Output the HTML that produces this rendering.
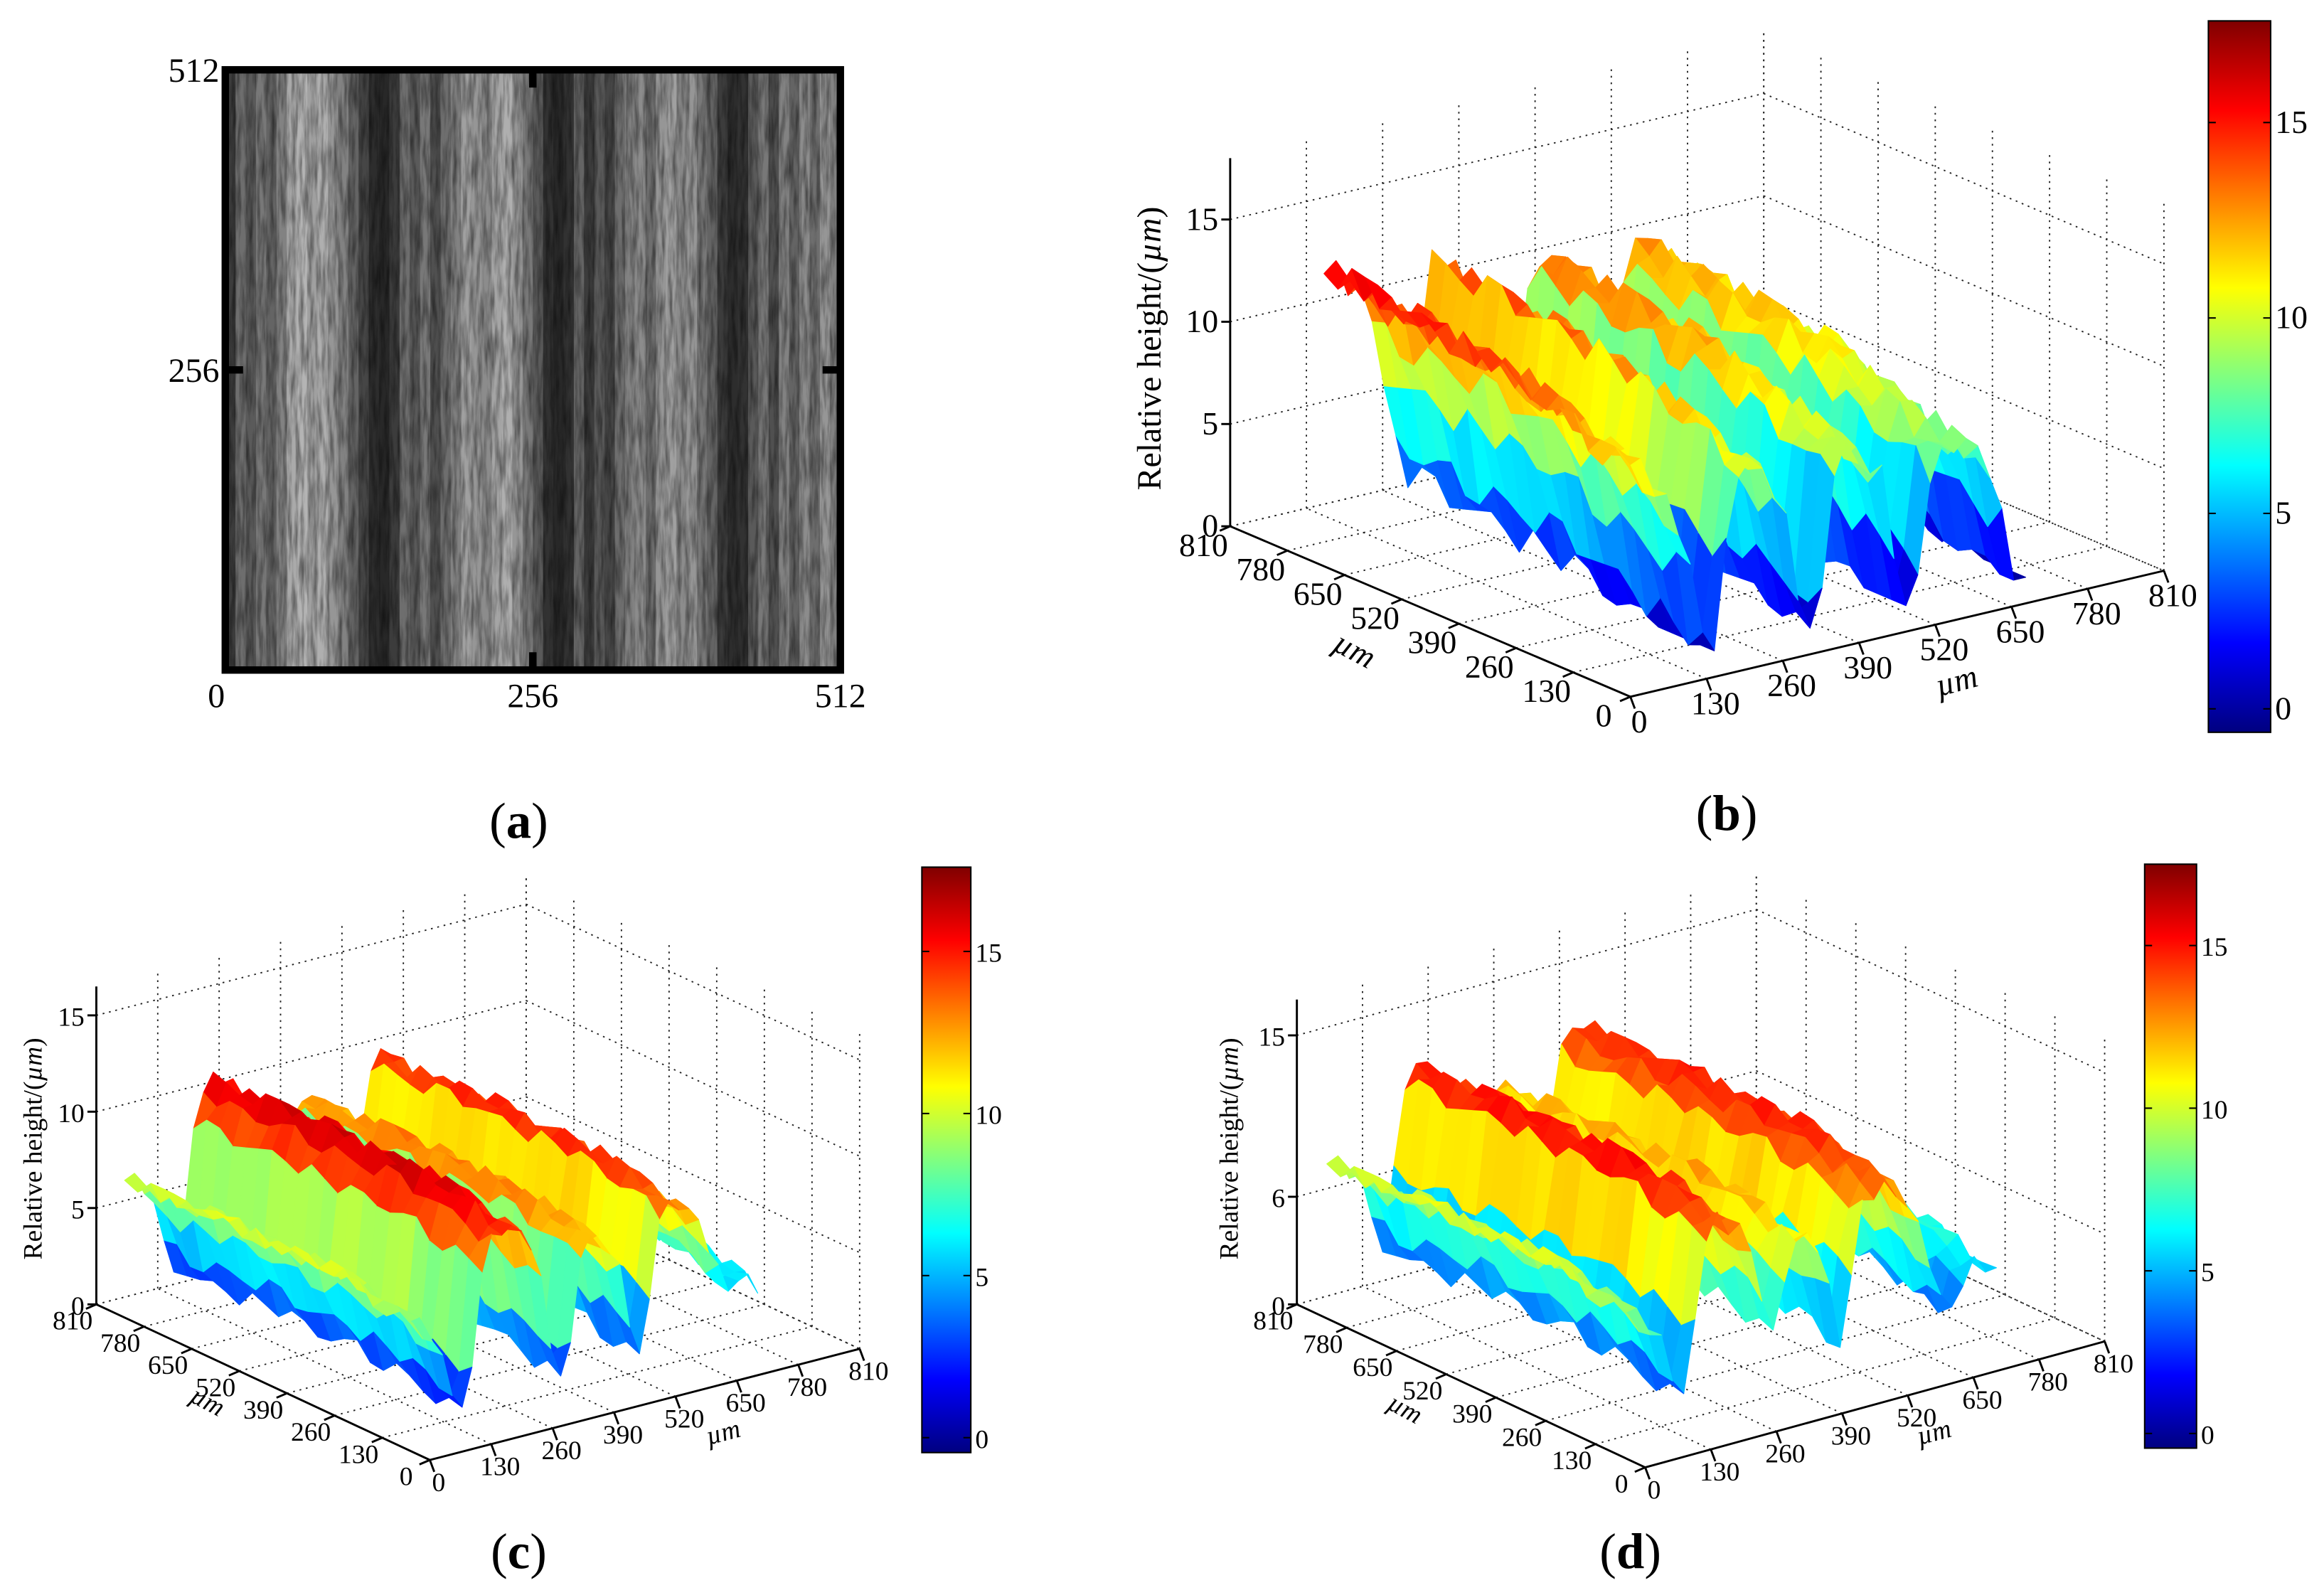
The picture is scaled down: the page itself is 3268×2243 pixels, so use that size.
<!DOCTYPE html>
<html><head><meta charset="utf-8"><style>
html,body{margin:0;padding:0;background:#fff;}
svg{display:block;font-family:"Liberation Serif",serif;}
</style></head><body>
<svg id="fig" width="3268" height="2243" viewBox="0 0 1568 1076" xmlns="http://www.w3.org/2000/svg">
<defs>
<filter id="grain" x="0" y="0" width="100%" height="100%">
<feTurbulence type="fractalNoise" baseFrequency="0.35 0.04" numOctaves="3" seed="4"/>
<feColorMatrix type="matrix" values="0 0 0 0 0  0 0 0 0 0  0 0 0 0 0  0 0 0 -1.6 1.05"/>
</filter>
</defs>
<rect x="0" y="0" width="1568" height="1076" fill="#fff"/>
<g id="pa"></g>
<g id="pb"></g>
<g id="pc"></g>
<g id="pd"></g>
<text x="350" y="565" font-size="34" text-anchor="middle">(<tspan font-weight="bold">a</tspan>)</text>
<text x="1165" y="560" font-size="34" text-anchor="middle">(<tspan font-weight="bold">b</tspan>)</text>
<text x="350" y="1058" font-size="34" text-anchor="middle">(<tspan font-weight="bold">c</tspan>)</text>
<text x="1100" y="1058" font-size="34" text-anchor="middle">(<tspan font-weight="bold">d</tspan>)</text>
</svg>
<script>
const NS="http://www.w3.org/2000/svg";
// ---- data ----
const stripeGray=[60,110,90,120,100,130,170,180,160,175,150,130,100,70,45,40,60,110,90,120,80,110,130,160,150,140,165,175,150,120,90,50,40,50,100,60,90,70,110,130,140,110,150,160,140,150,120,100,60,45,50,90,120,80,130,100,140,110,150,130];
const imgTicks=[0,256,512];
const axisTicks=[0,130,260,390,520,650,780,810];
const zTicksB=[0,5,10,15];
const zTicksC=[0,5,10,15];
const zTicksD=[0,6,15];
const cbTicks=[0,5,10,15];
const profileB=[14,13.5,13,12,10,7,3,1,8,13,12.5,12,11,9,5,2,4,11,12,11.5,11,10,6,1.5,5,10,11,11,10.5,10,9,6,2,1];
const profileC=[10,9.5,9,7,4,2,5,13,15,16,15.5,15,14,11,6,3,5,12,13,12.5,12,10,6,3,8,14,14.5,14,13,12,10,8,7,6.5,7,6];
const profileD=[10,9.5,9,8,5,3,8,14,15,14.5,14,12,9,6,10,12,12,11,8,4,9,13,14,14.5,14,13,11,8,5,4,6,7,7,6];
const yVarB=[-2.5,-2.2,-2,-1.6,-1.3,-1,-0.7,-0.4,-0.1,0.2,0.4,0.5,0.6,0.7,0.8,0.9,1,1.1,1.2,1.3,1.4,1.5,1.6];
const yVarC=[-1,-0.8,-0.5,-0.3,0,0.2,0.3,0.4,0.5,0.4,0.3,0.2,0.3,0.4,0.5,0.4,0.3,0.2,0.1,0,-0.1,0,0.1];
const yVarD=[-1,-0.8,-0.5,-0.3,0,0.2,0.3,0.4,0.5,0.4,0.3,0.2,0.3,0.4,0.5,0.4,0.3,0.2,0.1,0,-0.1,0,0.1];
const rough=[0.3,-0.8,0.9,-0.2,0.6,-1,0.1,0.8,-0.5,0.4,-0.9,0.7,-0.3,1,-0.6,0.2,-0.1,0.9,-0.7,0.5,-0.4,0.8,-0.95];

function el(tag,attrs,parent){const e=document.createElementNS(NS,tag);for(const k in attrs)e.setAttribute(k,attrs[k]);parent.appendChild(e);return e;}
function jet(t){t=Math.max(0,Math.min(1,t));
 const c=v=>Math.round(255*Math.max(0,Math.min(1,v)));
 return `rgb(${c(Math.min(4*t-1.5,-4*t+4.5))},${c(Math.min(4*t-0.5,-4*t+3.5))},${c(Math.min(4*t+0.5,-4*t+2.5))})`;}

// ---- panel a ----
(function(){
 const g=document.getElementById('pa');
 const x0=152,y0=47,w=415,h=405,sw=w/stripeGray.length;
 stripeGray.forEach((v,i)=>{
  const r=el('rect',{x:x0+i*sw,y:y0,width:sw+0.6,height:h,fill:`rgb(${v},${v},${v})`},g);
  
  
 });
 const n=el('rect',{x:x0,y:y0,width:w,height:h,fill:'#000',filter:'url(#grain)',opacity:0.55},g);
 
 const f=el('rect',{x:x0,y:y0,width:w,height:h,fill:'none',stroke:'#000','stroke-width':5},g);
 
 const sx=v=>x0+v/512*w, sy=v=>y0+h-v/512*h;
 el('line',{x1:sx(256),y1:y0,x2:sx(256),y2:y0+12,stroke:'#000','stroke-width':5},g);
 el('line',{x1:sx(256),y1:y0+h,x2:sx(256),y2:y0+h-12,stroke:'#000','stroke-width':5},g);
 el('line',{x1:x0,y1:sy(256),x2:x0+12,y2:sy(256),stroke:'#000','stroke-width':5},g);
 el('line',{x1:x0+w,y1:sy(256),x2:x0+w-12,y2:sy(256),stroke:'#000','stroke-width':5},g);
 imgTicks.forEach(v=>{
  const t=el('text',{x:sx(v)-(v===0?6:0),y:y0+h+25,'font-size':23,'text-anchor':'middle'},g);t.textContent=v;
  
  if(v>0){const t2=el('text',{x:x0-4,y:sy(v)+8,'font-size':23,'text-anchor':'end'},g);t2.textContent=v;
  }
 });
})();

// ---- 3D panels ----
function surfacePanel(id,cfg,profile,yVar,zTicks){
 const g=document.getElementById(id);
 const P=(x,y,z)=>[cfg.C[0]+x/810*cfg.vx[0]+y/810*cfg.vy[0], cfg.C[1]+x/810*cfg.vx[1]+y/810*cfg.vy[1]-z*cfg.zs];
 const tp=i=>i/(axisTicks.length-1)*810; // ticks equally spaced along axis
 const dot={stroke:'#222','stroke-width':0.9,'stroke-dasharray':'1.2 3.2',fill:'none'};
 const line=(a,b,st)=>el('line',Object.assign({x1:a[0],y1:a[1],x2:b[0],y2:b[1]},st),g);
 axisTicks.forEach((t,i)=>{const q=tp(i);
  line(P(q,810,0),P(q,810,cfg.zmax),dot); line(P(810,q,0),P(810,q,cfg.zmax),dot);
  line(P(q,0,0),P(q,810,0),dot); line(P(0,q,0),P(810,q,0),dot);
 });
 zTicks.forEach(z=>{line(P(0,810,z),P(810,810,z),dot); line(P(810,810,z),P(810,0,z),dot);});
 const ax={stroke:'#000','stroke-width':1.4};
 line(P(0,0,0),P(810,0,0),ax); line(P(0,0,0),P(0,810,0),ax); line(P(0,810,0),P(0,810,cfg.zmax),ax);
 axisTicks.forEach((t,i)=>{const q=tp(i);
  const a=P(q,0,0); line(a,[a[0]+3,a[1]+8],ax);
  const tx=el('text',{x:a[0]+cfg.xl[0],y:a[1]+cfg.xl[1],'font-size':cfg.fs,'text-anchor':'middle'},g);tx.textContent=t;
  
  const b=P(0,q,0); line(b,[b[0]-7,b[1]+3],ax);
  const ty=el('text',{x:b[0]+cfg.yl[0],y:b[1]+cfg.yl[1],'font-size':cfg.fs,'text-anchor':'middle'},g);ty.textContent=t;
  
 });
 zTicks.forEach(z=>{
  const a=P(0,810,z); line(a,[a[0]-6,a[1]],ax);
  const tz=el('text',{x:a[0]-8,y:a[1]+7,'font-size':cfg.fs,'text-anchor':'end'},g);tz.textContent=z;
  
 });
 // surface
 const nx=profile.length, ny=yVar.length, dx=cfg.xlen/(nx-1), dy=cfg.ylen/(ny-1);
 const V=(i,j)=>Math.max(0,profile[i]+yVar[j]*cfg.yamp+rough[(i*5+j*11)%rough.length]*cfg.ramp);
 const quads=[];
 for(let i=0;i<nx-1;i++)for(let j=0;j<ny-1;j++){
  const xs=[i*dx,(i+1)*dx,(i+1)*dx,i*dx].map(v=>v+cfg.x0), ys=[j*dy,j*dy,(j+1)*dy,(j+1)*dy].map(v=>v+cfg.y0);
  const vs=[V(i,j),V(i+1,j),V(i+1,j+1),V(i,j+1)];
  const xm=(i+0.5)*dx+cfg.x0, ym=(j+0.5)*dy+cfg.y0;
  quads.push({xs,ys,vs,d:-(cfg.vx[1]*xm+cfg.vy[1]*ym)});
 }
 quads.sort((a,b)=>b.d-a.d);
 const sg=el('g',{},g);
 
 quads.forEach(q=>{
  const pts=q.xs.map((x,k)=>P(x,q.ys[k],q.vs[k]*cfg.hs).map(v=>v.toFixed(1)).join(',')).join(' ');
  const vm=(q.vs[0]+q.vs[1]+q.vs[2]+q.vs[3])/4;
  const col=jet((vm-cfg.cmin)/(cfg.cmax-cfg.cmin));
  const p=el('polygon',{points:pts,fill:col,stroke:col,'stroke-width':0.6,'stroke-linejoin':'round'},sg);
  
  
 });
 // colorbar
 const cb=cfg.cb, grad='jet'+id;
 const defs=el('defs',{},g); const lg=el('linearGradient',{id:grad,x1:0,y1:1,x2:0,y2:0},defs);
 for(let k=0;k<=8;k++)el('stop',{offset:k/8,'stop-color':jet(k/8)},lg);
 const r=el('rect',{x:cb[0],y:cb[1],width:cb[2],height:cb[3],fill:`url(#${grad})`,stroke:'#000','stroke-width':1},g);
 
 cbTicks.forEach(v=>{
  const y=cb[1]+cb[3]-(v-cfg.cmin)/(cfg.cmax-cfg.cmin)*cb[3];
  line([cb[0],y],[cb[0]+5,y],{stroke:'#000','stroke-width':1}); line([cb[0]+cb[2]-5,y],[cb[0]+cb[2],y],{stroke:'#000','stroke-width':1});
  const t=el('text',{x:cb[0]+cb[2]+3,y:y+7,'font-size':cfg.fs},g);t.textContent=v;
  
 });
 const zl=el('text',{x:cfg.zlab[0],y:cfg.zlab[1],'font-size':cfg.lfs,'text-anchor':'middle',transform:`rotate(-90 ${cfg.zlab[0]} ${cfg.zlab[1]})`},g);
 zl.innerHTML='Relative height/(<tspan font-style="italic">µm</tspan>)';
 
 const ul=el('text',{x:cfg.ulab[0],y:cfg.ulab[1],'font-size':cfg.fs,'font-style':'italic',transform:`rotate(28 ${cfg.ulab[0]} ${cfg.ulab[1]})`},g);ul.textContent='µm';
 
 const xl=el('text',{x:cfg.xlab[0],y:cfg.xlab[1],'font-size':cfg.fs,'font-style':'italic',transform:`rotate(-15 ${cfg.xlab[0]} ${cfg.xlab[1]})`},g);xl.textContent='µm';
 
}
surfacePanel('pb',{C:[1100,470],vx:[360,-85],vy:[-270,-115],zs:13.8,zmax:18,cmin:-0.6,cmax:17.6,cb:[1490,14,42,480],
 fs:22,lfs:23,xl:[6,24],yl:[-18,20],zlab:[783,235],ulab:[898,438],xlab:[1308,470],x0:60,xlen:600,y0:80,ylen:620,yamp:1,ramp:0.9,hs:0.85},profileB,yVarB,zTicksB);
surfacePanel('pc',{C:[290,985],vx:[290,-75],vy:[-225,-105],zs:13,zmax:16.5,cmin:-0.46,cmax:17.6,cb:[622,585,33,395],
 fs:18,lfs:18,xl:[6,21],yl:[-16,17],zlab:[28,775],ulab:[127,945],xlab:[478,975],x0:30,xlen:650,y0:80,ylen:700,yamp:1,ramp:0.7,hs:0.66},profileC,yVarC,zTicksC);
surfacePanel('pd',{C:[1110,990],vx:[310,-85],vy:[-235,-110],zs:12.1,zmax:17,cmin:-0.45,cmax:17.5,cb:[1447,583,35,394],
 fs:18,lfs:18,xl:[6,21],yl:[-16,17],zlab:[835,775],ulab:[935,950],xlab:[1295,975],x0:30,xlen:650,y0:80,ylen:700,yamp:1,ramp:0.7,hs:0.8},profileD,yVarD,zTicksD);
</script>
</body></html>
